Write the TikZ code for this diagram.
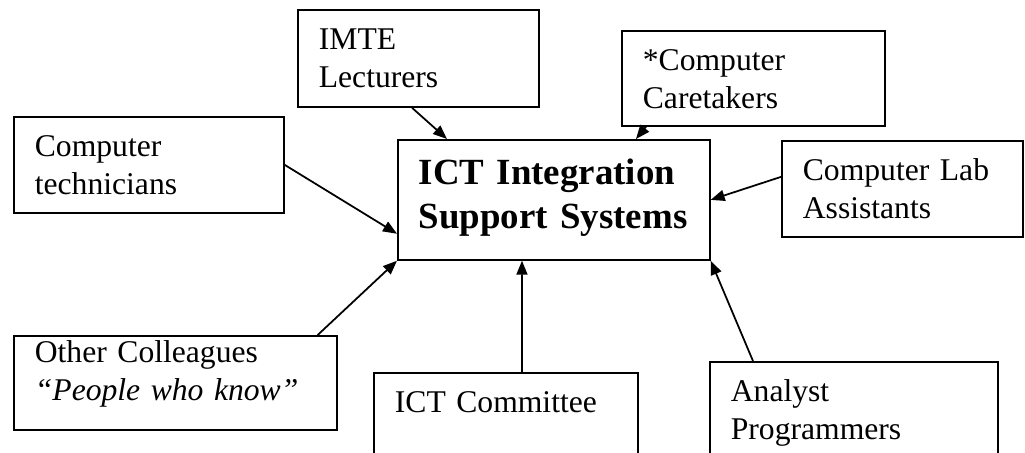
\documentclass[tikz,border=0pt]{standalone}
\usepackage{fontspec}
\setmainfont{Liberation Serif}
\usepackage{tikz}
\usetikzlibrary{arrows.meta}

\begin{document}
\begin{tikzpicture}[x=0.02cm,y=-0.02cm]
    \tikzstyle{box}=[
      draw=black,
      line width=1pt,
      rectangle,
      anchor=north west,
      align=left,
      inner xsep=0.42cm,
      inner ysep=0.36cm,
      text height=0.44cm,
      font=\fontsize{18}{21.5}\selectfont,
    ]
    \tikzstyle{hubbox}=[box,inner ysep=0.4cm,text height=0.5cm,font=\fontsize{21}{25}\selectfont\bfseries]
    \tikzstyle{link}=[line width=1pt,->,>={Triangle[length=0.28cm,width=0.22cm]},draw=black]

    \path[use as bounding box] (0,0) rectangle (1025,453);
    \clip (0,0) rectangle (1025,453);

    \node[hubbox,text width=5.4cm,text depth=1.1cm] (hub) at (397,139) {ICT Integration\\Support Systems};
    \node[box,text width=3.98cm,text depth=0.78cm] (imte) at (297,9) {IMTE\\Lecturers};
    \node[box,text width=4.56cm,text depth=0.76cm] (tech) at (13,116) {Computer\\technicians};
    \node[box,text width=4.42cm,text depth=0.74cm] (care) at (621,30) {*Computer\\Caretakers};
    \node[box,text width=3.98cm,text depth=0.76cm] (lab) at (781,140) {Computer Lab\\Assistants};
    \node[box,inner ysep=0.1cm,text width=5.62cm,text depth=1.24cm] (coll) at (13,335) {Other Colleagues\\\textit{“People who know”}};
    \node[box,text width=4.44cm,text depth=1.24cm] (comm) at (373,372) {ICT Committee};
    \node[box,text width=4.92cm,text depth=1.24cm] (anal) at (709,361) {Analyst\\Programmers};

    \draw[link] ([xshift=2.3cm]imte.south west) -- ([xshift=1cm]hub.north west);
    \draw[link] (tech.east) -- ([yshift=0.54cm]hub.south west);
    \draw[link] ([xshift=0.5cm]care.south west) -- ([xshift=4.78cm]hub.north west);
    \draw[link] ([yshift=0.24cm]lab.west) -- (hub.east);
    \draw[link] ([xshift=-0.4cm]coll.north east) -- (hub.south west);
    \draw[link] ([xshift=2.98cm]comm.north west) -- ([xshift=2.5cm]hub.south west);
    \draw[link] ([xshift=0.88cm]anal.north west) -- (hub.south east);
\end{tikzpicture}
\end{document}
